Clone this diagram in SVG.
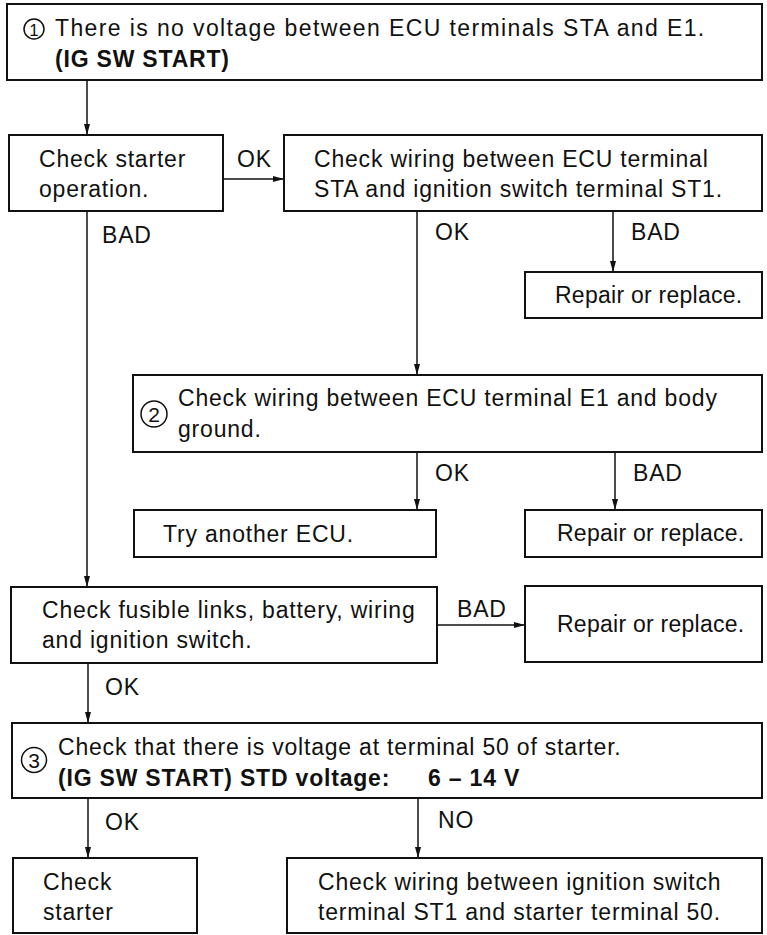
<svg xmlns="http://www.w3.org/2000/svg" width="767" height="935" viewBox="0 0 767 935">
<style>
  .box { fill: #fff; stroke: #111; stroke-width: 2; }
  .t { font-family: "Liberation Sans", Arial, sans-serif; font-size: 23px; letter-spacing: 0.8px; fill: #111; }
  .b { font-weight: bold; }
  .lbl { font-family: "Liberation Sans", Arial, sans-serif; font-size: 23px; letter-spacing: 0.8px; fill: #111; }
  .num { font-family: "Liberation Sans", Arial, sans-serif; fill: #111; text-anchor: middle; }
  .circ { fill: none; stroke: #111; stroke-width: 1.5; }
  .conn { stroke: #111; stroke-width: 1.5; fill: none; }
</style>
<defs>
  <marker id="arr" markerWidth="12" markerHeight="8" refX="11" refY="4" orient="auto" markerUnits="userSpaceOnUse">
    <path d="M0,1 L11,4 L0,7 z" fill="#111"/>
  </marker>
</defs>
<rect width="767" height="935" fill="#fff"/>

<g id="connectors">
  <line class="conn" x1="87" y1="80" x2="87" y2="135" marker-end="url(#arr)"/>
  <line class="conn" x1="223" y1="179" x2="284" y2="179" marker-end="url(#arr)"/>
  <line class="conn" x1="87" y1="211" x2="87" y2="587" marker-end="url(#arr)"/>
  <line class="conn" x1="417" y1="211" x2="417" y2="375" marker-end="url(#arr)"/>
  <line class="conn" x1="613" y1="211" x2="613" y2="272" marker-end="url(#arr)"/>
  <line class="conn" x1="417" y1="452" x2="417" y2="510" marker-end="url(#arr)"/>
  <line class="conn" x1="615" y1="452" x2="615" y2="510" marker-end="url(#arr)"/>
  <line class="conn" x1="437" y1="625" x2="525" y2="625" marker-end="url(#arr)"/>
  <line class="conn" x1="88" y1="663" x2="88" y2="723" marker-end="url(#arr)"/>
  <line class="conn" x1="88" y1="798" x2="88" y2="858" marker-end="url(#arr)"/>
  <line class="conn" x1="418" y1="798" x2="418" y2="858" marker-end="url(#arr)"/>
  <text class="lbl" x="237" y="167">OK</text>
  <text class="lbl" x="102" y="243">BAD</text>
  <text class="lbl" x="435" y="240">OK</text>
  <text class="lbl" x="631" y="240">BAD</text>
  <text class="lbl" x="435" y="481">OK</text>
  <text class="lbl" x="633" y="481">BAD</text>
  <text class="lbl" x="457" y="617">BAD</text>
  <text class="lbl" x="105" y="695">OK</text>
  <text class="lbl" x="105" y="830">OK</text>
  <text class="lbl" x="438" y="828">NO</text>
</g>

<g id="n1">
  <rect class="box" x="7" y="4" width="755" height="76"/>
  <circle class="circ" cx="34" cy="29" r="10"/>
  <text class="num" x="34" y="35.5" font-size="17">1</text>
  <text class="t" x="55" y="36" textLength="650">There is no voltage between ECU terminals STA and E1.</text>
  <text class="t b" x="55" y="67">(IG SW START)</text>
</g>

<g id="n2">
  <rect class="box" x="9" y="135" width="214" height="76"/>
  <text class="t" x="39" y="167">Check starter</text>
  <text class="t" x="39" y="197">operation.</text>
</g>

<g id="n3">
  <rect class="box" x="284" y="135" width="478" height="76"/>
  <text class="t" x="314" y="167">Check wiring between ECU terminal</text>
  <text class="t" x="314" y="197">STA and ignition switch terminal ST1.</text>
</g>

<g id="n4">
  <rect class="box" x="525" y="272" width="237" height="46"/>
  <text class="t" x="555" y="303" textLength="188">Repair or replace.</text>
</g>

<g id="n5">
  <rect class="box" x="133" y="375" width="629" height="77"/>
  <circle class="circ" cx="154" cy="414" r="13"/>
  <text class="num" x="154" y="421.5" font-size="21">2</text>
  <text class="t" x="178" y="406">Check wiring between ECU terminal E1 and body</text>
  <text class="t" x="178" y="437">ground.</text>
</g>

<g id="n6">
  <rect class="box" x="134" y="510" width="302" height="47"/>
  <text class="t" x="163" y="542">Try another ECU.</text>
</g>

<g id="n7">
  <rect class="box" x="525" y="510" width="237" height="47"/>
  <text class="t" x="557" y="541" textLength="188">Repair or replace.</text>
</g>

<g id="n8">
  <rect class="box" x="11" y="587" width="426" height="76"/>
  <text class="t" x="42" y="618">Check fusible links, battery, wiring</text>
  <text class="t" x="42" y="648">and ignition switch.</text>
</g>

<g id="n9">
  <rect class="box" x="525" y="586" width="237" height="76"/>
  <text class="t" x="557" y="632" textLength="188">Repair or replace.</text>
</g>

<g id="n10">
  <rect class="box" x="12" y="723" width="750" height="75"/>
  <circle class="circ" cx="34" cy="760" r="12.5"/>
  <text class="num" x="34" y="767.5" font-size="21">3</text>
  <text class="t" x="58" y="755">Check that there is voltage at terminal 50 of starter.</text>
  <text class="t b" x="58" y="786">(IG SW START) STD voltage:</text>
  <text class="t b" x="428" y="786">6 – 14 V</text>
</g>

<g id="n11">
  <rect class="box" x="13" y="858" width="184" height="75"/>
  <text class="t" x="43" y="890">Check</text>
  <text class="t" x="43" y="920">starter</text>
</g>

<g id="n12">
  <rect class="box" x="287" y="858" width="475" height="75"/>
  <text class="t" x="318" y="890">Check wiring between ignition switch</text>
  <text class="t" x="318" y="920">terminal ST1 and starter terminal 50.</text>
</g>
</svg>
